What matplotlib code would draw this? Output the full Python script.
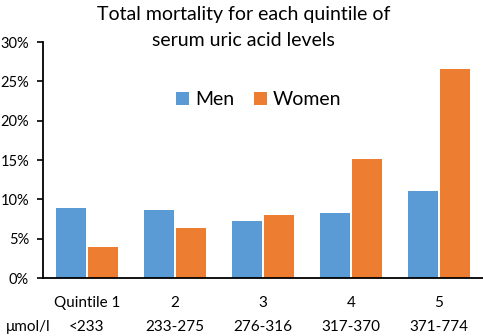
# Total mortality by serum uric acid quintile, men vs women
import numpy as np
import matplotlib.pyplot as plt
import matplotlib.transforms as mtransforms

plt.rcParams['font.family'] = ['Lato', 'DejaVu Sans']

quintiles = ['Quintile 1', '2', '3', '4', '5']
ranges = ['<233', '233-275', '276-316', '317-370', '371-774']
men = [8.9, 8.6, 7.2, 8.2, 11.1]
women = [3.9, 6.4, 8.0, 15.1, 26.6]

fig = plt.figure(figsize=(4.83, 3.36), dpi=100)
ax = fig.add_axes([0.089, 0.1726, 0.911, 0.7024])

x = np.arange(len(quintiles))
w = 0.345
ax.bar(x - w / 2 - 0.008, men, w, color='#5B9BD5', label='Men')
ax.bar(x + w / 2 + 0.008, women, w, color='#ED7D31', label='Women')

ax.set_xlim(-0.5, 4.5)
ax.set_ylim(0, 30)
ax.set_yticks(range(0, 31, 5))
ax.set_yticklabels([f'{v}%' for v in range(0, 31, 5)], fontsize=10.5)
ax.set_xticks(x)
ax.set_xticklabels(quintiles, fontsize=11)
ax.tick_params(axis='x', length=0, pad=13)
ax.tick_params(axis='y', length=4, pad=6, width=1.2)

for s in ['top', 'right']:
    ax.spines[s].set_visible(False)
ax.spines['left'].set_linewidth(1.3)
ax.spines['bottom'].set_linewidth(1.3)

trans = mtransforms.blended_transform_factory(ax.transData, fig.transFigure)
for xi, r in zip(x, ranges):
    ax.text(xi, 0.027, r, transform=trans, ha='center', va='center', fontsize=11)
fig.text(0.012, 0.027, 'μmol/l', ha='left', va='center', fontsize=11)

fig.text(0.505, 0.982, 'Total mortality for each quintile of\nserum uric acid levels',
         ha='center', va='top', fontsize=14, linespacing=1.65)

ax.legend(loc='center', bbox_to_anchor=(0.49, 0.755), ncol=2, frameon=False,
          fontsize=14, handlelength=0.7, handleheight=0.7, handletextpad=0.3,
          columnspacing=1.0)

plt.savefig('out.png', dpi=100)
